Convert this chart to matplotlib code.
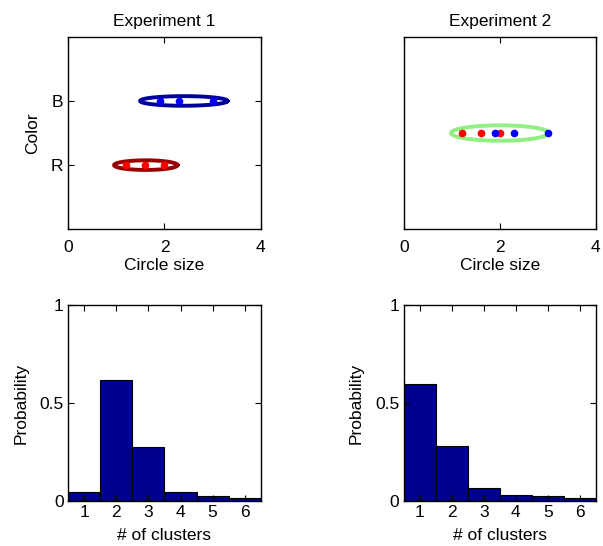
import numpy as np
import matplotlib
matplotlib.use("Agg")
import matplotlib.pyplot as plt

plt.rcParams['font.family'] = ['Liberation Sans', 'DejaVu Sans']
plt.rcParams['font.size'] = 12.5

# Circle size of the items shown in each experiment
red_sizes = [1.2, 1.6, 2.0]
blue_sizes = [1.9, 2.3, 3.0]
color_labels = ["R", "B"]

# Experiment 1: one cluster per color (center x, center y, half-width, half-height)
exp1_red_cluster = [1.61, 1.0, 0.66, 0.075]
exp1_blue_cluster = [2.40, 2.0, 0.91, 0.075]
# Experiment 2: a single cluster in the middle
exp2_cluster = [2.0, 1.5, 1.02, 0.12]

# Posterior on number of clusters
n_clusters = [1, 2, 3, 4, 5, 6]
prob_exp1 = [0.045, 0.617, 0.275, 0.045, 0.022, 0.015]
prob_exp2 = [0.595, 0.282, 0.065, 0.031, 0.022, 0.015]

bar_color = "#00008F"


def draw_ellipse(ax, cl, color):
    t = np.linspace(0, 2 * np.pi, 41)
    ax.plot(cl[0] + cl[2] * np.cos(t), cl[1] + cl[3] * np.sin(t),
            color=color, lw=2.8, solid_joinstyle="round")


def style_axes(ax, xpad, ypad):
    ax.tick_params(direction="in", top=True, right=True, length=4, width=0.8,
                   labelsize=12.5)
    ax.tick_params(axis="x", pad=xpad)
    ax.tick_params(axis="y", pad=ypad)
    for s in ax.spines.values():
        s.set_linewidth(1.0)


fig = plt.figure(figsize=(6.03, 5.46), dpi=100)
ax1 = fig.add_axes([0.1133, 0.580, 0.319, 0.3527])
ax2 = fig.add_axes([0.670, 0.580, 0.318, 0.3527])
ax3 = fig.add_axes([0.1133, 0.083, 0.319, 0.358])
ax4 = fig.add_axes([0.670, 0.083, 0.318, 0.358])

# top left
draw_ellipse(ax1, exp1_blue_cluster, "#00009C")
draw_ellipse(ax1, exp1_red_cluster, "#990000")
ax1.plot(blue_sizes, [2] * 3, "o", color="#0000FF", ms=5.5, mec="none")
ax1.plot(red_sizes, [1] * 3, "o", color="#FF0000", ms=5.5, mec="none")
ax1.set_xlim(0, 4)
ax1.set_ylim(0, 3)
ax1.set_xticks([0, 2, 4])
ax1.set_yticks([1, 2])
ax1.set_yticklabels(color_labels)
ax1.set_xlabel("Circle size", labelpad=2)
ax1.set_ylabel("Color", labelpad=8)
ax1.set_title("Experiment 1", fontsize=12.5, pad=8)

# top right
draw_ellipse(ax2, exp2_cluster, "#8FEF80")
ax2.plot(red_sizes, [1.5] * 3, "o", color="#FF0000", ms=5.5, mec="none")
ax2.plot(blue_sizes, [1.5] * 3, "o", color="#0000FF", ms=5.5, mec="none")
ax2.set_xlim(0, 4)
ax2.set_ylim(0, 3)
ax2.set_xticks([0, 2, 4])
ax2.set_yticks([])
ax2.set_xlabel("Circle size", labelpad=2)
ax2.set_title("Experiment 2", fontsize=12.5, pad=8)

# bottom histograms
for ax, probs in [(ax3, prob_exp1), (ax4, prob_exp2)]:
    ax.bar(n_clusters, probs, width=1.0, color=bar_color, edgecolor="black",
           linewidth=0.8)
    ax.set_xlim(0.5, 6.5)
    ax.set_ylim(0, 1)
    ax.set_xticks(n_clusters)
    ax.set_yticks([0, 0.5, 1])
    ax.set_yticklabels(["0", "0.5", "1"])
    ax.set_xlabel("# of clusters", labelpad=6)
    ax.set_ylabel("Probability", labelpad=8)

style_axes(ax1, 7.5, 3.4)
style_axes(ax2, 7.5, 3.4)
style_axes(ax3, 3.0, 3.4)
style_axes(ax4, 3.0, 3.4)

fig.savefig("out.png", dpi=100)
